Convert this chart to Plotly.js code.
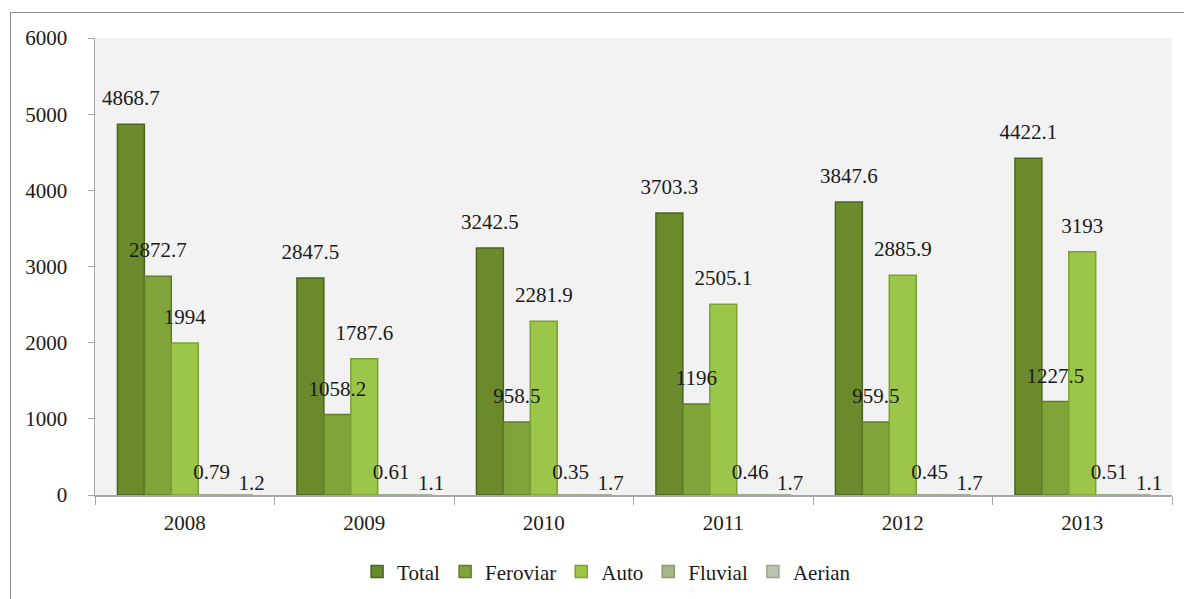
<!DOCTYPE html>
<html>
<head>
<meta charset="utf-8">
<script src="https://cdn.plot.ly/plotly-3.0.1.min.js"></script>
<style>
html,body{margin:0;padding:0;background:#fff;}
#wrap{position:relative;width:1184px;height:599px;}
#chart{position:absolute;left:0;top:0;width:1184px;height:599px;}
#frame{position:absolute;left:10px;top:12px;width:1180px;height:600px;border:1px solid #8c8c8c;pointer-events:none;}
</style>
</head>
<body>
<div id="wrap"><div id="chart"></div><div id="frame"></div></div>
<script>
const years = ['2008','2009','2010','2011','2012','2013'];
const seriesNames = ['Total','Feroviar','Auto','Fluvial','Aerian'];
const total    = [4868.7, 2847.5, 3242.5, 3703.3, 3847.6, 4422.1];
const feroviar = [2872.7, 1058.2, 958.5, 1196, 959.5, 1227.5];
const auto     = [1994, 1787.6, 2281.9, 2505.1, 2885.9, 3193];
const fluvial  = [0.79, 0.61, 0.35, 0.46, 0.45, 0.51];
const aerian   = [1.2, 1.1, 1.7, 1.7, 1.7, 1.1];
const yTicks   = [0, 1000, 2000, 3000, 4000, 5000, 6000];

const values = [total, feroviar, auto, fluvial, aerian];
const fills = ['#6a8a2c', '#7fa53a', '#9cc64a', '#a7b68c', '#bcc3b0'];
const edges = ['#4c6420', '#5e7e26', '#7aa232', '#8a9a6e', '#9aa290'];
const font = '"Liberation Serif", "Times New Roman", serif';
const labelPos = ['top center', 'top center', 'top center', 'top center', 'top right'];
const labelPad = [20, 20, 20, 16, 0];

const bars = values.map((v, i) => ({
  type: 'bar',
  name: seriesNames[i],
  x: years,
  y: v,
  offsetgroup: String(i),
  marker: {color: fills[i], line: {color: edges[i], width: 1.5}},
  hoverinfo: 'x+y+name'
}));

const labels = values.map((v, i) => ({
  type: 'scatter',
  mode: labelPad[i] > 0 ? 'markers+text' : 'text',
  name: seriesNames[i] + ' labels',
  showlegend: false,
  x: years,
  y: v,
  offsetgroup: String(i),
  text: v.map(String),
  textposition: labelPos[i],
  cliponaxis: false,
  marker: {size: labelPad[i], opacity: 0},
  textfont: {family: font, size: 21, color: '#1a1a1a'},
  hoverinfo: 'skip'
}));

const layout = {
  width: 1184, height: 599,
  margin: {l: 95, r: 12, t: 38, b: 104, autoexpand: false},
  paper_bgcolor: 'rgba(0,0,0,0)',
  plot_bgcolor: '#f2f2f2',
  barmode: 'group',
  bargap: 0.25,
  bargroupgap: 0,
  scattermode: 'group',
  scattergap: 0.25,
  showlegend: true,
  legend: {
    orientation: 'h', x: 0.475, xanchor: 'center', y: -0.168, yanchor: 'middle',
    font: {family: font, size: 21, color: '#1a1a1a'},
    itemwidth: 30, tracegroupgap: 0
  },
  xaxis: {
    type: 'category',
    showline: true, linecolor: '#a6a6a6', linewidth: 1.5,
    ticks: 'outside', tickson: 'boundaries', ticklen: 8, tickcolor: '#a6a6a6',
    ticklabelstandoff: 8,
    tickfont: {family: font, size: 21, color: '#1a1a1a'},
    showgrid: false, zeroline: false
  },
  yaxis: {
    range: [0, 6000],
    tickvals: yTicks,
    ticktext: yTicks.map(String),
    showline: true, linecolor: '#a6a6a6', linewidth: 1.5,
    ticks: 'outside', ticklen: 6, tickcolor: '#a6a6a6',
    ticklabelstandoff: 16,
    tickfont: {family: font, size: 21, color: '#1a1a1a'},
    showgrid: false, zeroline: false
  }
};

Plotly.newPlot('chart', bars.concat(labels), layout, {displayModeBar: false, staticPlot: true});
</script>
</body>
</html>
